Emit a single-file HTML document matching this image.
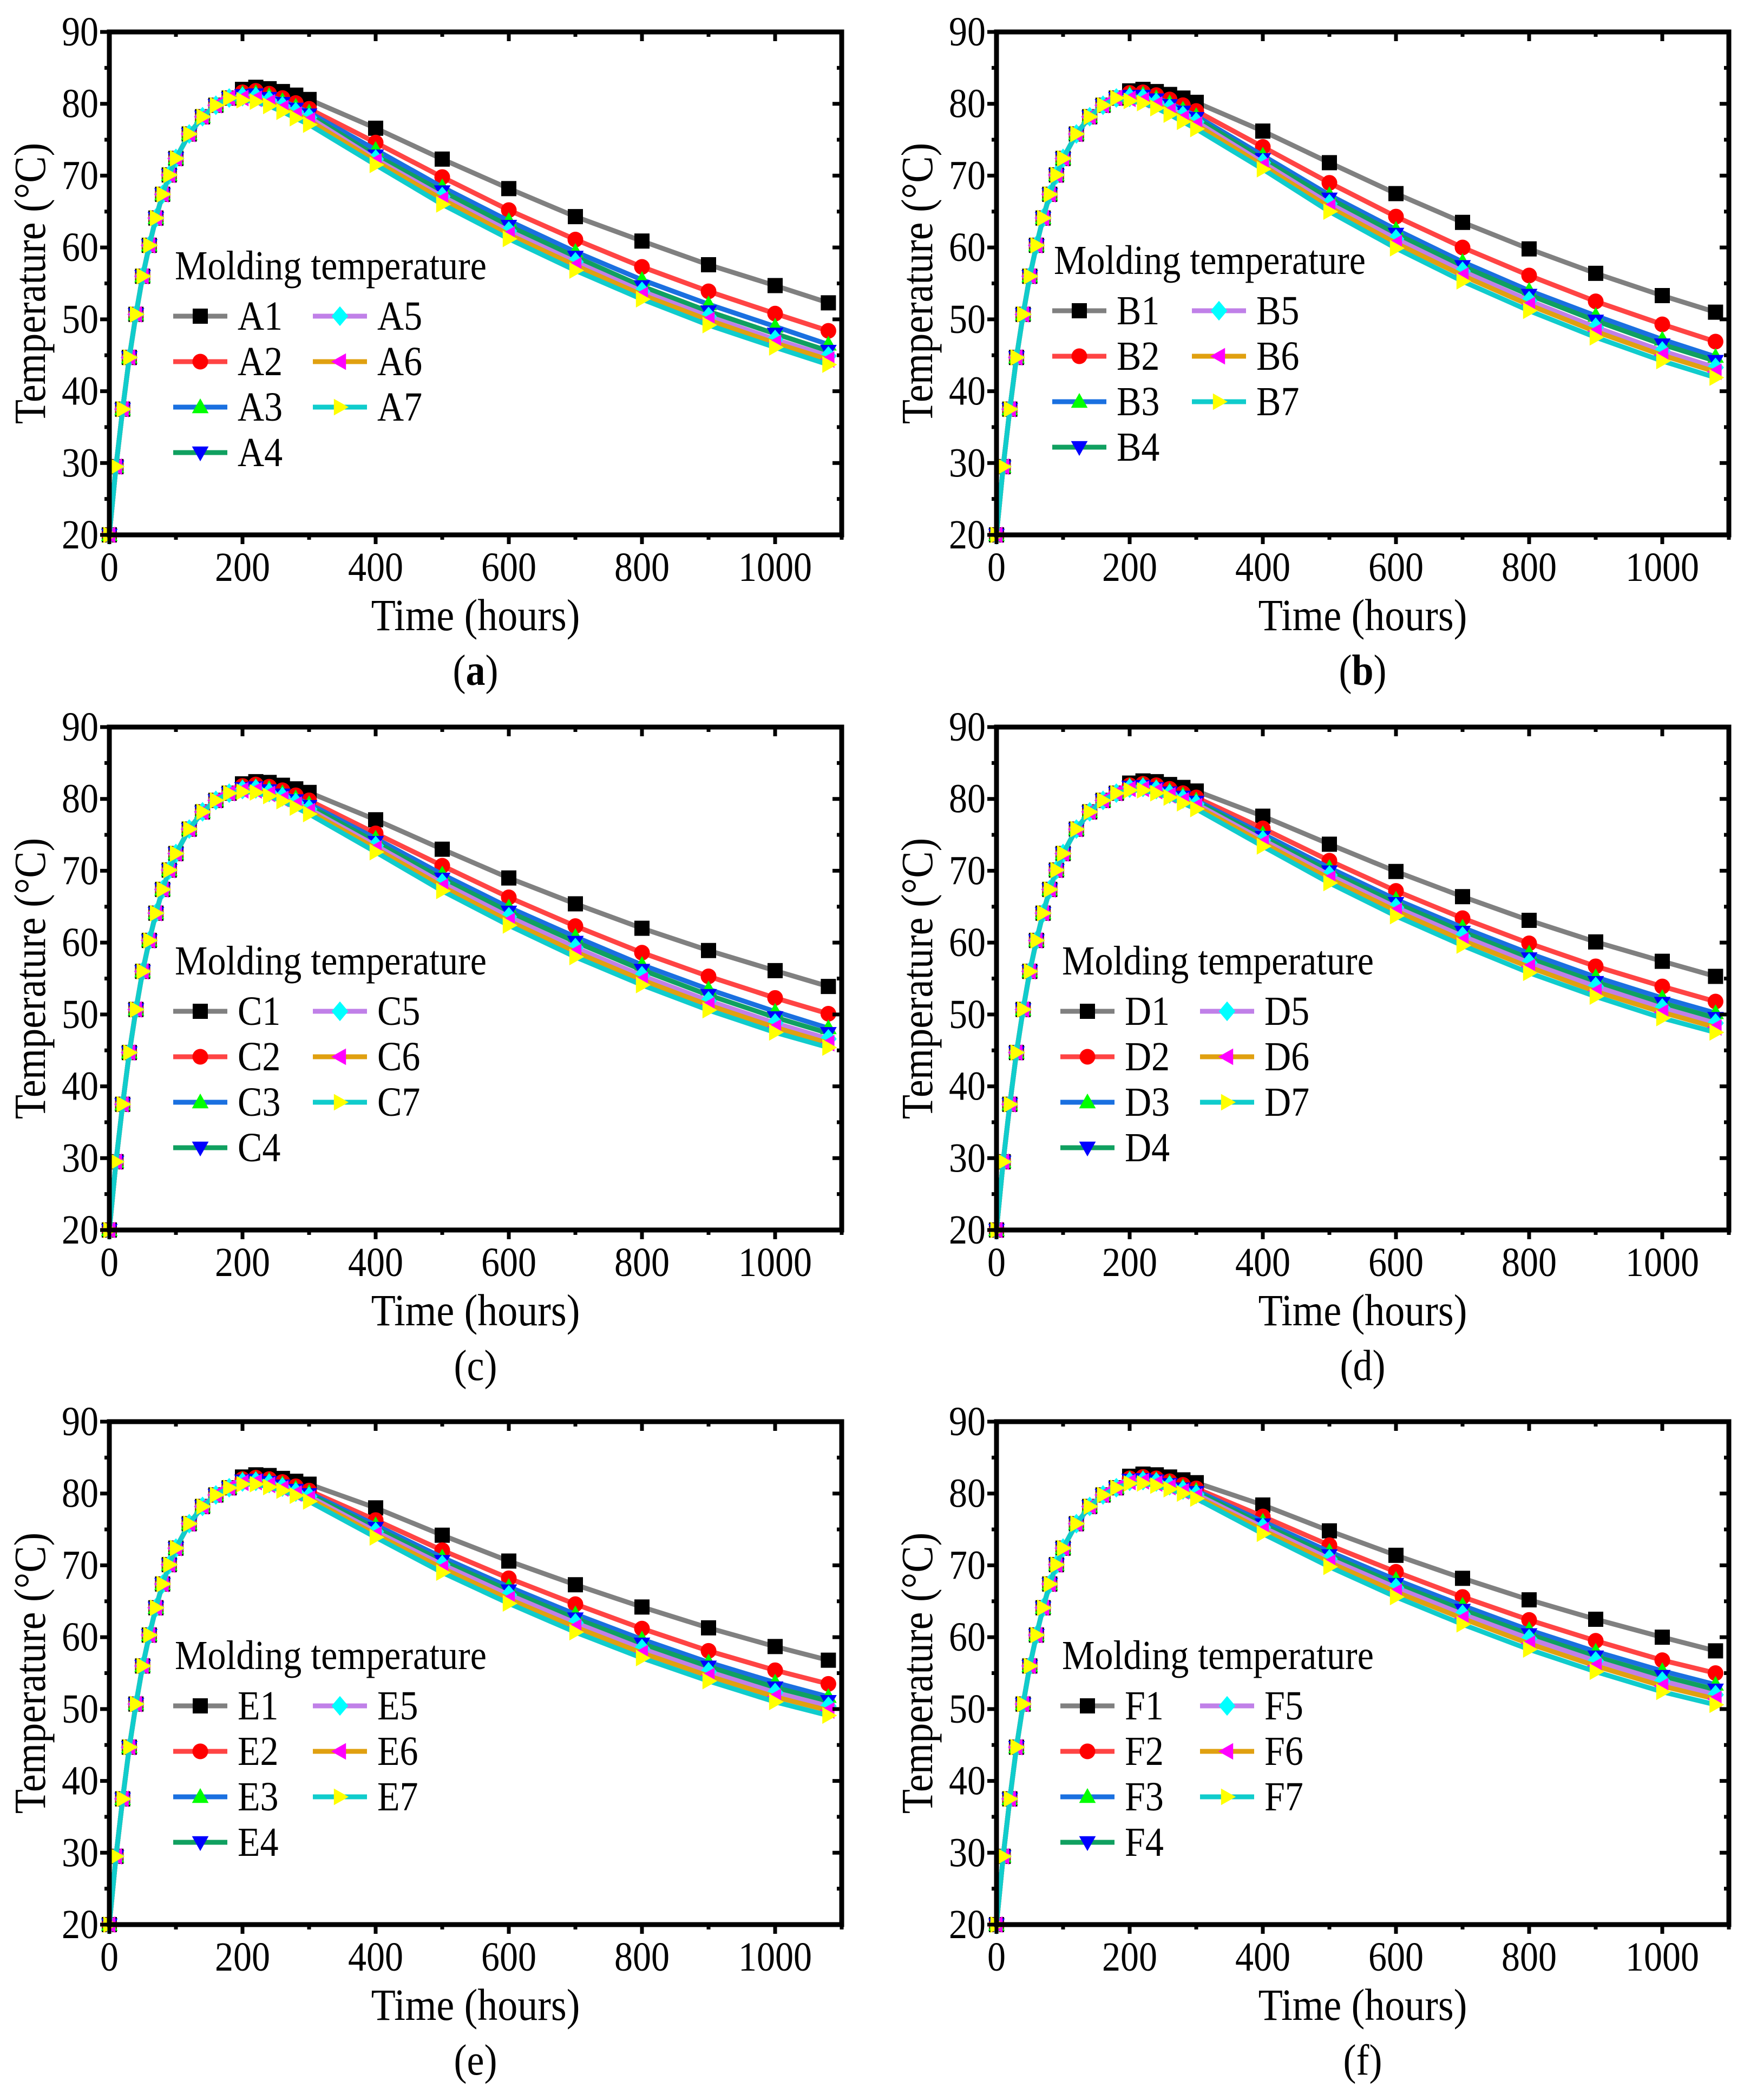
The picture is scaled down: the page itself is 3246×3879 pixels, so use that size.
<!DOCTYPE html>
<html><head><meta charset="utf-8"><style>
html,body{margin:0;padding:0;background:#fff;}
svg{display:block;}
text{font-family:"Liberation Serif",serif;fill:#000;}
</style></head><body>
<svg id="fig" width="3246" height="3879" viewBox="0 0 3246 3879" xmlns="http://www.w3.org/2000/svg"></svg>
<script>
// ---- data ----
const times = [0,10,20,30,40,50,60,70,80,90,100,120,140,160,180,200,220,240,260,280,300,400,500,600,700,800,900,1000,1080];
const riseValues = [20,29.5,37.5,44.7,50.7,56,60.3,64.1,67.4,70.1,72.4,75.8,78.2,79.8,80.8];
const xTicks = [0,200,400,600,800,1000];
const yTicks = [20,30,40,50,60,70,80,90];
const panelLetters = ["A","B","C","D","E","F"];
const captions = ["a","b","c","d","e","f"];
const tailA = [
[82.0,82.3,82.1,81.7,81.2,80.6,76.6,72.3,68.2,64.3,60.9,57.6,54.7,52.3],
[81.6,81.8,81.4,80.8,80.1,79.3,74.6,69.8,65.2,61.1,57.3,53.9,50.8,48.4],
[81.4,81.5,81.1,80.4,79.6,78.8,73.6,68.4,63.7,59.4,55.5,52.1,49.0,46.5],
[81.2,81.3,80.8,80.1,79.3,78.5,72.8,67.8,63.0,58.7,54.6,51.1,48.0,45.6],
[81.0,81.0,80.5,79.7,78.9,78.1,72.3,67.1,62.3,58.0,53.9,50.4,47.2,44.9],
[80.8,80.7,80.2,79.4,78.5,77.7,72.0,66.7,61.8,57.5,53.4,49.9,46.7,44.4],
[80.5,80.3,79.7,78.9,78.0,77.1,71.5,66.0,61.2,56.8,52.8,49.2,46.1,43.7]];
const tailB = [
[81.8,82.0,81.7,81.3,80.8,80.2,76.2,71.8,67.5,63.5,59.8,56.4,53.3,51.0],
[81.5,81.6,81.2,80.6,79.8,79.0,74.0,69.0,64.3,60.0,56.1,52.5,49.3,46.9],
[81.3,81.3,80.8,80.1,79.2,78.3,72.8,67.3,62.5,58.0,54.0,50.5,47.2,44.8],
[81.1,81.1,80.6,79.8,78.9,78.0,72.3,66.8,61.9,57.4,53.4,49.8,46.5,44.2],
[80.9,80.8,80.2,79.4,78.4,77.5,71.8,66.1,61.2,56.7,52.6,48.9,45.6,43.3],
[80.7,80.5,79.9,79.0,78.0,77.1,71.4,65.6,60.6,56.1,52.0,48.3,45.0,42.7],
[80.4,80.1,79.4,78.5,77.5,76.5,70.9,65.0,59.9,55.3,51.2,47.5,44.2,41.9]];
const tailC = [
[82.1,82.4,82.3,81.9,81.4,80.9,77.1,73.0,69.0,65.4,62.0,58.9,56.1,53.9],
[81.8,82.0,81.7,81.2,80.5,79.8,75.2,70.7,66.3,62.3,58.6,55.3,52.3,50.1],
[81.6,81.7,81.4,80.8,80.1,79.3,74.5,69.5,64.9,60.8,56.9,53.5,50.4,48.1],
[81.5,81.6,81.2,80.6,79.8,79.0,74.0,68.9,64.3,60.1,56.2,52.7,49.6,47.4],
[81.3,81.4,80.9,80.3,79.5,78.6,73.5,68.3,63.6,59.3,55.4,51.9,48.8,46.6],
[81.2,81.2,80.7,80.0,79.2,78.3,73.1,67.8,63.0,58.7,54.8,51.3,48.2,46.0],
[81.0,80.9,80.4,79.7,78.8,77.9,72.6,67.2,62.4,58.0,54.1,50.6,47.5,45.4]];
const tailD = [
[82.2,82.5,82.4,82.0,81.6,81.1,77.6,73.7,69.9,66.4,63.1,60.1,57.4,55.3],
[81.9,82.1,81.9,81.4,80.8,80.2,75.9,71.4,67.2,63.4,59.9,56.7,53.9,51.8],
[81.8,81.9,81.6,81.1,80.5,79.8,75.1,70.4,66.0,62.1,58.5,55.2,52.3,50.2],
[81.7,81.8,81.5,80.9,80.3,79.6,74.7,69.9,65.5,61.5,57.8,54.5,51.6,49.5],
[81.5,81.6,81.3,80.7,80.0,79.3,74.3,69.4,64.9,60.9,57.2,53.9,50.9,48.8],
[81.4,81.4,81.1,80.5,79.8,79.0,73.9,68.9,64.4,60.3,56.6,53.2,50.3,48.2],
[81.2,81.2,80.8,80.2,79.4,78.6,73.4,68.3,63.7,59.6,55.8,52.5,49.5,47.5]];
const tailE = [
[82.3,82.6,82.5,82.1,81.7,81.3,78.0,74.2,70.6,67.3,64.2,61.3,58.7,56.8],
[82.0,82.2,82.0,81.6,81.0,80.4,76.3,72.1,68.2,64.6,61.2,58.1,55.4,53.5],
[81.9,82.0,81.8,81.3,80.7,80.1,75.6,71.1,67.0,63.2,59.7,56.5,53.7,51.7],
[81.8,81.9,81.6,81.1,80.5,79.9,75.2,70.6,66.5,62.6,59.1,55.9,53.0,51.1],
[81.6,81.7,81.4,80.9,80.2,79.6,74.7,70.1,65.9,62.0,58.4,55.2,52.3,50.4],
[81.5,81.6,81.2,80.7,80.0,79.3,74.3,69.6,65.3,61.4,57.8,54.6,51.7,49.8],
[81.3,81.3,80.9,80.4,79.7,78.9,73.9,69.0,64.7,60.7,57.1,53.9,51.0,49.1]];
const tailF = [
[82.4,82.7,82.6,82.3,81.9,81.5,78.4,74.8,71.4,68.2,65.2,62.5,60.0,58.1],
[82.1,82.3,82.1,81.7,81.2,80.7,76.8,72.8,69.1,65.6,62.4,59.5,56.8,55.0],
[82.0,82.1,81.9,81.5,80.9,80.4,76.1,71.9,68.0,64.4,61.0,58.0,55.3,53.4],
[81.9,82.0,81.8,81.3,80.7,80.2,75.7,71.4,67.4,63.8,60.4,57.3,54.6,52.7],
[81.7,81.8,81.6,81.1,80.5,79.9,75.3,70.9,66.9,63.2,59.8,56.7,53.9,52.0],
[81.6,81.7,81.4,80.9,80.3,79.6,74.9,70.4,66.3,62.6,59.1,56.0,53.2,51.4],
[81.4,81.4,81.1,80.6,80.0,79.3,74.4,69.8,65.6,61.8,58.3,55.2,52.4,50.6]];
const panelTails = [tailA,tailB,tailC,tailD,tailE,tailF];

// ---- styles ----
const lineColors = ["#808080","#ff4444","#1a70e0","#10a060","#c080e8","#e0a010","#10cccc"];
const markColors = ["#000000","#ff0000","#00ff00","#0000ff","#00ffff","#ff00ff","#ffff00"];
const markShapes = ["square","circle","up","down","diamond","left","right"];
const NS = "http://www.w3.org/2000/svg";
const svg = document.getElementById("fig");
function mk(tag, attrs, parent){ const e=document.createElementNS(NS,tag); for(const k in attrs) e.setAttribute(k,attrs[k]); (parent||svg).appendChild(e); return e; }
function txt(parent, x, y, size, anchor, str, sy){
  sy = sy || 1.12;
  const t = mk("text",{x:0,y:0,"font-size":size,"text-anchor":anchor,transform:`translate(${x},${y}) scale(1,${sy})`},parent);
  t.textContent = str;
  return t;
}

const colX = [202,1841], rowY = [59,1343,2626], W = 1353, H = 929;
function markerPath(shape, cx, cy, r){
  switch(shape){
    case "square": return `M${cx-r},${cy-r}h${2*r}v${2*r}h${-2*r}Z`;
    case "up": return `M${cx},${cy-r*1.15}L${cx+r*1.1},${cy+r*0.8}L${cx-r*1.1},${cy+r*0.8}Z`;
    case "down": return `M${cx},${cy+r*1.15}L${cx+r*1.1},${cy-r*0.8}L${cx-r*1.1},${cy-r*0.8}Z`;
    case "left": return `M${cx-r*1.15},${cy}L${cx+r*0.8},${cy-r*1.1}L${cx+r*0.8},${cy+r*1.1}Z`;
    case "right": return `M${cx+r*1.15},${cy}L${cx-r*0.8},${cy-r*1.1}L${cx-r*0.8},${cy+r*1.1}Z`;
    case "diamond": return `M${cx},${cy-r*1.3}L${cx+r*1.1},${cy}L${cx},${cy+r*1.3}L${cx-r*1.1},${cy}Z`;
  }
}
function drawMarker(g, s, cx, cy){
  let m;
  if(markShapes[s]==="circle"){ m = mk("circle",{cx:cx,cy:cy,r:14.5,fill:markColors[s]},g); }
  else { m = mk("path",{d:markerPath(markShapes[s],cx,cy,14),fill:markColors[s]},g); }
  
  
}

for(let p=0;p<6;p++){
  const L = colX[p%2], T = rowY[Math.floor(p/2)];
  const xs = v => L + v/1100*W;
  const ys = v => T + (90-v)/70*H;
  const g = mk("g",{});
  
  
  const tails = panelTails[p];
  for(let s=0;s<7;s++){
    const vals = riseValues.concat(tails[s]);
    const sg = mk("g",{},g);
    
    
    const pts = vals.map((v,i)=>xs(times[i]).toFixed(1)+","+ys(v).toFixed(1)).join(" ");
    const pl = mk("polyline",{points:pts,fill:"none",stroke:lineColors[s],"stroke-width":9,"stroke-linejoin":"round"},sg);
    
    
    vals.forEach((v,i)=>drawMarker(sg,s,xs(times[i]),ys(v)));
  }
  const fr = mk("rect",{x:L,y:T,width:W,height:H,fill:"none",stroke:"#000","stroke-width":9},g);
  
  
  for(let v=0; v<=1100; v+=100){
    const maj = v%200===0, len = maj?17:9, x = xs(v);
    mk("line",{x1:x,y1:T+H,x2:x,y2:T+H+len,stroke:"#000","stroke-width":7},g);
    mk("line",{x1:x,y1:T,x2:x,y2:T+len,stroke:"#000","stroke-width":7},g);
  }
  xTicks.forEach(v=>{
    const t = txt(g, xs(v), T+H+85, 68, "middle", String(v));
    
    
  });
  for(let v=20; v<=90; v+=5){
    const maj = v%10===0, len = maj?17:9, y = ys(v);
    mk("line",{x1:L,y1:y,x2:L-len,y2:y,stroke:"#000","stroke-width":7},g);
    mk("line",{x1:L+W,y1:y,x2:L+W-len,y2:y,stroke:"#000","stroke-width":7},g);
  }
  yTicks.forEach(v=>{
    const t = txt(g, L-20, ys(v)+25, 68, "end", String(v));
    
    
  });
  const xt = txt(g, L+W/2, T+H+176, 74, "middle", "Time (hours)");
  
  
  const ytx = L-119, yty = T+H/2;
  const yt = mk("text",{x:0,y:0,"font-size":74,"text-anchor":"middle",transform:`translate(${ytx},${yty}) rotate(-90) scale(1.0,1.12)`},g);
  yt.textContent = "Temperature (°C)";
  
  
  const cap = mk("text",{x:0,y:0,"font-size":72,"text-anchor":"middle",transform:`translate(${L+W/2},${T+H+277}) scale(1,1.12)`},g);
  cap.appendChild(document.createTextNode("("));
  const cl = mk("tspan",{},cap);
  cl.textContent = captions[p];
  if(p<2) cl.setAttribute("font-weight","bold");
  cap.appendChild(document.createTextNode(")"));
  
  
  const dx = p===1 ? -15 : 0, dy = p===1 ? -10 : 0;
  const lg = mk("g",{transform:`translate(${L+dx},${T+dy})`},g);
  
  
  const lt = txt(lg, 121, 457, 68, "start", "Molding temperature");
  
  
  for(let s=0;s<7;s++){
    const col = s<4?0:1, row = s<4?s:s-4;
    const x0 = col? 376:118, cy = 525 + row*84;
    const eg = mk("g",{},lg);
    
    
    mk("line",{x1:x0,y1:cy,x2:x0+100,y2:cy,stroke:lineColors[s],"stroke-width":9},eg);
    drawMarker(eg,s,x0+50,cy);
    txt(eg, x0+119, cy+25, 68, "start", panelLetters[p]+(s+1));
  }
}
</script>
</body></html>
